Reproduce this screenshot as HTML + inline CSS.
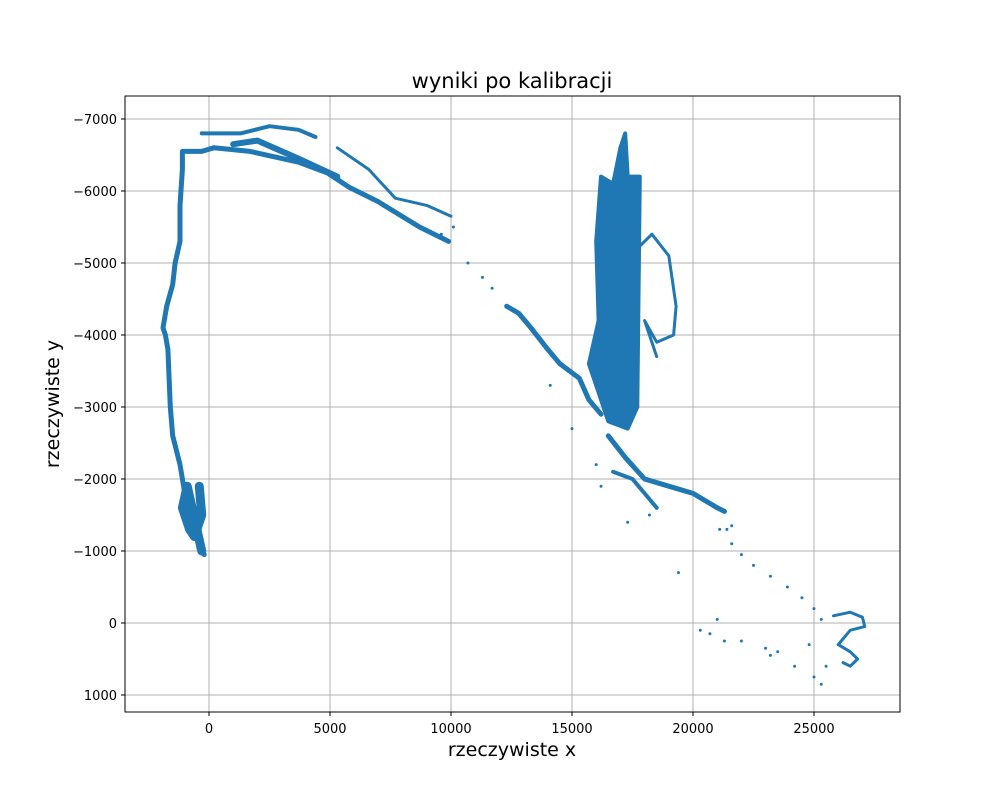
<!DOCTYPE html>
<html><head><meta charset="utf-8"><style>
body{margin:0;background:#fff;font-family:"Liberation Sans","DejaVu Sans",sans-serif}
svg text{font-family:"DejaVu Sans","Liberation Sans",sans-serif}
</style></head><body>
<svg id="chart" width="1000" height="800">
<text x="512" y="88" text-anchor="middle" font-size="21">wyniki po kalibracji</text>
<g id="grid"></g>
<g id="marks"></g>
<rect x="125" y="96" width="775" height="616" fill="none" stroke="#000" stroke-width="1"/>
<g id="axes"></g>
<text x="512" y="756" text-anchor="middle" font-size="19">rzeczywiste x</text>
<text transform="translate(59,404) rotate(-90)" text-anchor="middle" font-size="19">rzeczywiste y</text>
</svg>
<script>
const xTicks=[0,5000,10000,15000,20000,25000];
const yTicks=[-7000,-6000,-5000,-4000,-3000,-2000,-1000,0,1000];
const leftTrace=[[-200,-950],[-400,-1100],[-800,-1400],[-1000,-1800],[-1200,-2200],[-1500,-2600],[-1600,-3000],[-1650,-3400],[-1700,-3800],[-1800,-4000],[-1900,-4100],[-1750,-4400],[-1500,-4700],[-1400,-5000],[-1200,-5300],[-1200,-5800],[-1100,-6300],[-1100,-6550],[-300,-6550],[200,-6600],[1700,-6550],[3700,-6400],[4900,-6250],[5800,-6050],[7000,-5850],[8700,-5500],[9900,-5300]];
const leftBand=[[-300,-1000],[-500,-1300],[-700,-1600],[-900,-1900],[-1100,-1600],[-800,-1300],[-600,-1200],[-300,-1500],[-400,-1900]];
const topBranch=[[-300,-6800],[1300,-6800],[2500,-6900],[3700,-6850],[4400,-6750]];
const midBranch=[[1000,-6650],[2000,-6700],[3700,-6450],[5300,-6200]];
const upperBranch=[[5300,-6600],[6600,-6300],[7700,-5900],[9000,-5800],[10000,-5650]];
const diagonal=[[12300,-4400],[12800,-4300],[13300,-4100],[14000,-3800],[14500,-3600],[15300,-3400],[15700,-3100],[16200,-2900]];
const cluster=[[16000,-5300],[16200,-6200],[16700,-6100],[17000,-6600],[17200,-6800],[17300,-6200],[17800,-6200],[17700,-3000],[17300,-2700],[16500,-2800],[16000,-3300],[15700,-3600],[16100,-4200]];
const loop=[[17700,-5200],[18300,-5400],[19000,-5100],[19300,-4400],[19200,-4000],[18500,-3900],[18000,-4200],[18500,-3700]];
const lowerBand=[[16500,-2600],[17200,-2300],[18000,-2000],[19000,-1900],[20000,-1800],[21000,-1600],[21300,-1550]];
const lowerBand2=[[16700,-2100],[17500,-2000],[18000,-1800],[18500,-1600]];
const curl=[[25800,-100],[26500,-150],[27000,-80],[27100,50],[26500,100],[26000,300],[26500,400],[26800,500],[26500,600],[26200,550]];
const scatter=[[10700,-5000],[11300,-4800],[11700,-4650],[14100,-3300],[15000,-2700],[16000,-2200],[16200,-1900],[17300,-1400],[18200,-1500],[21600,-1100],[22000,-950],[22500,-800],[23200,-650],[23900,-500],[24500,-350],[25000,-200],[25300,-50],[20300,100],[20700,150],[21000,-50],[21300,250],[22000,250],[23000,350],[23200,450],[23500,400],[24200,600],[25000,750],[25300,850],[25500,600],[24800,300],[19400,-700],[21100,-1300],[21400,-1300],[21600,-1350],[9600,-5400],[10100,-5500]];
const X=v=>209+v*0.0242;
const Y=v=>119+(v+7000)*0.072;
const NS='http://www.w3.org/2000/svg';
const grid=document.getElementById('grid'),axes=document.getElementById('axes'),marks=document.getElementById('marks');
function mk(t,a,p){const e=document.createElementNS(NS,t);for(const k in a)e.setAttribute(k,a[k]);p.appendChild(e);return e;}
xTicks.forEach(t=>{
  const l=mk('line',{x1:X(t),x2:X(t),y1:96,y2:712,stroke:'#b0b0b0','stroke-width':1},grid);
  
  
  mk('line',{x1:X(t),x2:X(t),y1:712,y2:716,stroke:'#000'},axes);
  const tx=mk('text',{x:X(t),y:733,'text-anchor':'middle','font-size':13},axes);
  tx.textContent=t;
  
  
});
yTicks.forEach(t=>{
  const l=mk('line',{x1:125,x2:900,y1:Y(t),y2:Y(t),stroke:'#b0b0b0','stroke-width':1},grid);
  
  
  mk('line',{x1:121,x2:125,y1:Y(t),y2:Y(t),stroke:'#000'},axes);
  const tx=mk('text',{x:117,y:Y(t)+5,'text-anchor':'end','font-size':13},axes);
  tx.textContent=String(t).replace('-','\u2212');
  
  
});
const C='#1f77b4';
function path(arr,w,name,closed){
  const d=arr.map((p,i)=>(i?'L':'M')+X(p[0]).toFixed(1)+' '+Y(p[1]).toFixed(1)).join(' ')+(closed?'Z':'');
  const e=mk('path',{d:d,fill:closed?C:'none',stroke:C,'stroke-width':w,'stroke-linejoin':'round','stroke-linecap':'round'},marks);
  
  
}
path(leftTrace,5,'left-trace');
path(leftBand,9,'left-band');
path(topBranch,4,'top-branch');
path(midBranch,6,'mid-branch');
path(upperBranch,3,'upper-branch');
path(diagonal,5,'diagonal-trace');
path(cluster,4,'dense-cluster',true);
path(loop,3,'cluster-loop');
path(lowerBand,5,'lower-band');
path(lowerBand2,4,'lower-band-2');
path(curl,3,'right-curl');
scatter.forEach(p=>{
  const c=mk('circle',{cx:X(p[0]),cy:Y(p[1]),r:1.5,fill:C},marks);
  
  
});
</script>
</body></html>
